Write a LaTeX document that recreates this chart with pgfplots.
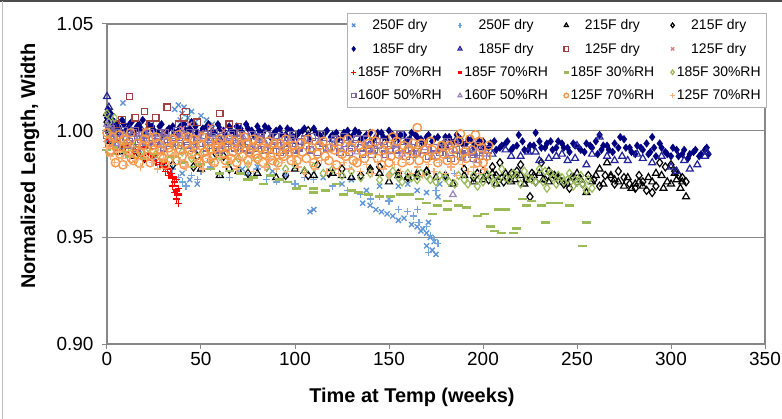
\documentclass[border=0pt]{standalone}
\usepackage{fontspec}
\setmainfont{Liberation Sans}
\usepackage{pgfplots}
\pgfplotsset{compat=1.18}
\usetikzlibrary{calc}

\definecolor{cA}{HTML}{5B93D6}
\definecolor{cB}{HTML}{74A5DE}
\definecolor{cNavy}{HTML}{000080}
\definecolor{cTri}{HTML}{22229A}
\definecolor{cBrown}{HTML}{A04040}
\definecolor{cPink}{HTML}{D98080}
\definecolor{cRed}{HTML}{FF0000}
\definecolor{cGreen}{HTML}{9BBB59}
\definecolor{cPurple}{HTML}{8064A2}
\definecolor{cPurpleL}{HTML}{9A84BA}
\definecolor{cOrange}{HTML}{F79646}
\definecolor{cOrangeL}{HTML}{FAB07A}
\definecolor{cAxis}{HTML}{878787}

\begin{document}
\begin{tikzpicture}
\begin{axis}[
  scale only axis, width=658bp, height=320bp,
  xmin=0, xmax=350, ymin=0.90, ymax=1.05,
  xtick={0,50,...,350}, ytick={0.90,0.95,1.00,1.05},
  ymajorgrids, grid style={cAxis, line width=1.2bp},
  axis line style={cAxis, line width=1.2bp},
  tick pos=left, tick align=outside, major tick length=5bp,
  tick style={cAxis, line width=1bp},
  ticklabel style={font=\fontsize{19}{19}\selectfont},
  /pgf/number format/assume math mode=true,
  yticklabel style={xshift=-5bp, /pgf/number format/.cd, fixed, fixed zerofill, precision=2},
  xlabel={Time at Temp (weeks)}, ylabel={Normalized Length, Width},
  label style={font=\bfseries\fontsize{20}{20}\selectfont},
  xlabel style={at={(0.4635,-0.166)}, anchor=center},
  ylabel style={at={(-0.117,0.556)}, anchor=center},
  only marks,
  legend columns=4,
  legend image code/.code={\draw[mark repeat=2,mark phase=2,#1] plot coordinates {(0bp,0bp)(5bp,0bp)(10bp,0bp)};},
  legend image post style={mark size=2.3bp},
  legend style={at={(0.3647,1.034)}, anchor=north west, draw=gray!60, line width=0.8bp,
    font=\fontsize{14}{16}\selectfont, inner sep=4bp, row sep=8bp,
    /tikz/every even column/.append style={column sep=14bp}},
]
% 250F dry x
\addplot[mark=x, mark size=3.6bp, color=cA, mark options={line width=1.3bp}] coordinates {
(2,1.002)(5,0.999)(8.5,1.013)(12,1.000)(36,1.010)(38,1.012)(40,1.008)(41,1.011)(43,1.006)(45,1.009)
(47,1.004)(50,1.007)(53,1.005)(56,1.003)(42,1.003)(39,1.005)(40,0.980)(44,0.977)(48,0.975)
(65,0.984)(72,0.982)(80,0.983)(88,0.981)(95,0.979)(108,0.962)(110,0.963)
(115,0.978)(125,0.975)(130,0.977)(138,0.972)(145,0.974)(150,0.968)
(136,0.966)(140,0.965)(143,0.963)(146,0.962)(149,0.961)(152,0.960)(155,0.958)(158,0.959)
(162,0.956)(165,0.955)(167,0.953)(170,0.952)(172,0.950)(174,0.948)(170,0.946)(173,0.944)
(175,0.942)(168,0.954)(171,0.957)(160,0.975)(165,0.972)(170,0.971)(176,0.969)(177,0.975)
(155,0.974)(180,0.978)};
\addlegendentry{250F dry}
% 250F dry +
\addplot[mark=+, mark size=3.6bp, color=cB, mark options={line width=1.3bp}] coordinates {
(0,0.995)(3,0.993)(6,0.990)(10,0.992)(20,0.988)(25,0.986)(30,0.985)(35,0.982)(38,0.978)
(40,0.976)(42,0.974)(45,0.979)(48,0.977)(50,0.981)(55,0.983)(60,0.980)(65,0.978)(70,0.981)
(75,0.979)(80,0.982)(85,0.977)(90,0.976)(95,0.980)(100,0.975)(105,0.978)(110,0.977)(120,0.974)
(128,0.972)(135,0.970)(140,0.968)(145,0.969)(150,0.967)(155,0.963)(160,0.962)(163,0.960)
(166,0.957)(170,0.955)(172,0.951)(174,0.949)(176,0.947)(171,0.943)(165,0.963)(175,0.972)
(180,0.978)(185,0.980)};
\addlegendentry{250F dry}
% 215F dry triangle
\addplot[mark=triangle, mark size=4bp, color=black, mark options={line width=1.2bp}] coordinates {
(0,1.008)(2,0.995)(5,0.990)(15,0.988)(30,0.985)(50,0.982)(60,0.979)(70,0.981)(80,0.980)
(90,0.978)(100,0.982)(110,0.979)(120,0.980)(130,0.978)(140,0.981)(150,0.976)(155,0.979)
(165,0.980)(175,0.978)(184,0.975)(190,0.979)(200,0.977)(205,0.980)(210,0.978)(215,0.976)
(220,0.979)(225,0.977)(230,0.980)(235,0.976)(240,0.978)(245,0.975)(250,0.980)(255,0.971)
(258,0.976)(262,0.982)(266,0.985)(270,0.977)(275,0.974)(279,0.973)(283,0.976)(288,0.978)
(292,0.980)(295,0.979)(298,0.976)(300,0.975)(303,0.977)(305,0.973)(308,0.969)
(195,0.976)(202,0.979)(207,0.975)(212,0.980)(217,0.977)(222,0.975)(227,0.979)(232,0.977)
(237,0.979)(242,0.976)(247,0.978)(252,0.977)(260,0.979)(264,0.975)(268,0.979)(272,0.976)
(277,0.978)(281,0.975)(285,0.974)(290,0.976)(296,0.973)(302,0.980)(306,0.976)
(105,0.981)(125,0.979)(145,0.980)(160,0.978)(170,0.981)};
\addlegendentry{215F dry}
% 215F dry diamond
\addplot[mark=diamond, mark size=4bp, color=black, mark options={line width=1.2bp}] coordinates {
(0,1.004)(1,1.000)(3,0.996)(8,0.991)(20,0.987)(35,0.984)(46,0.983)(48,0.988)(55,0.986)
(58,0.989)(62,0.988)(65,0.982)(75,0.980)(85,0.983)(95,0.979)(107,1.000)(107,0.979)(112,0.984)
(125,0.982)(135,0.979)(145,0.983)(155,0.980)(160,0.978)(170,0.981)(180,0.979)(190,0.982)
(195,0.978)(200,0.981)(205,0.983)(209,0.985)(213,0.978)(218,0.981)(220,0.984)(225,0.969)
(228,0.976)(231,0.985)(235,0.981)(240,0.977)(246,0.973)(250,0.976)(256,0.979)(262,0.974)
(268,0.978)(272,0.981)(278,0.975)(283,0.979)(287,0.972)(290,0.971)(294,0.985)(297,0.983)
(300,0.984)(304,0.979)(308,0.976)
(197,0.980)(203,0.977)(207,0.979)(211,0.976)(215,0.980)(223,0.977)(226,0.980)(233,0.977)
(238,0.979)(243,0.975)(248,0.978)(253,0.975)(259,0.977)(265,0.979)(270,0.975)(275,0.978)
(281,0.973)(285,0.976)(292,0.974)(302,0.981)(306,0.978)(118,0.980)(140,0.982)(165,0.979)};
\addlegendentry{215F dry}
% 185F dry filled diamond
\addplot[mark=diamond*, mark size=3.8bp, color=cNavy] coordinates {
(0,1.006)(0.5,1.010)(1,1.003)(2,1.008)(3,1.001)(4,1.004)(6,1.002)(8,1.005)(10,1.000)(12,1.003)
(14,0.999)(16,1.002)(18,1.001)(20,0.999)(22,1.003)(25,1.000)(28,1.002)(30,0.998)(33,1.001)
(36,0.999)(39,1.002)(42,1.000)(45,1.004)(48,0.999)(51,1.001)(54,1.003)(57,0.999)(60,1.001)
(63,0.998)(66,1.000)(69,1.002)(72,0.999)(75,1.001)(78,0.998)(81,1.000)(84,1.002)(87,0.997)
(90,1.000)(93,0.998)(96,1.001)(99,0.997)(102,0.999)(105,1.001)(108,0.996)(111,0.999)
(114,0.997)(117,1.000)(120,0.998)(123,0.996)(126,0.999)(129,0.997)(132,1.000)(135,0.996)
(138,0.998)(141,0.995)(144,0.999)(147,0.997)(150,1.000)(153,0.996)(156,0.998)(159,0.995)
(162,0.999)(165,0.997)(168,0.994)(171,0.998)(174,0.996)(177,0.993)(180,0.997)(183,0.995)
(186,0.998)(189,0.994)(192,0.996)(195,0.993)(198,0.995)(201,0.992)(204,0.994)(207,0.991)
(210,0.993)(213,0.995)(216,0.992)(219,0.998)(222,0.991)(225,0.993)(228,0.999)(231,0.992)
(234,0.994)(237,0.991)(240,0.995)(243,0.992)(246,0.990)(249,0.993)(252,0.991)(255,0.994)
(258,0.992)(261,0.989)(262,0.998)(264,0.993)(267,0.991)(270,0.994)(273,0.997)(276,0.992)
(279,0.990)(282,0.993)(285,0.991)(288,0.989)(290,0.997)(291,0.992)(294,0.994)(297,0.990)
(300,0.988)(303,0.991)(306,0.989)(309,0.987)(312,0.990)(315,0.988)(318,0.991)(320,0.989)
(1.5,1.006)(5,1.003)(7,1.000)(9,1.003)(11,1.001)(13,1.004)(15,1.000)(17,1.003)(19,1.005)
(21,1.000)(24,1.002)(27,0.999)(29,1.003)(32,1.000)(35,1.002)(38,1.000)(41,1.003)(44,1.001)
(47,1.002)(50,0.999)(53,1.002)(56,1.000)(59,1.003)(62,1.000)(65,1.002)(68,0.999)(71,1.001)
(74,1.003)(77,1.000)(80,1.002)(83,0.999)(86,1.001)(89,0.999)(92,1.001)(95,0.998)(98,1.000)
(101,0.998)(104,1.000)(107,0.998)(110,1.001)(113,0.998)(116,0.999)(119,0.997)(122,0.999)
(125,0.997)(128,1.000)(131,0.998)(134,0.999)(137,0.997)(140,0.999)(143,0.997)(146,0.999)
(149,0.996)(152,0.998)(155,0.996)(158,0.998)(161,0.996)(164,0.998)(167,0.996)(170,0.997)
(173,0.995)(176,0.997)(179,0.994)(182,0.997)(185,0.995)(188,0.996)(191,0.994)(194,0.996)
(197,0.993)(200,0.995)(203,0.992)(206,0.995)(209,0.992)(212,0.994)(215,0.991)(218,0.993)
(221,0.995)(224,0.991)(227,0.993)(230,0.995)(233,0.992)(236,0.995)(239,0.992)(242,0.994)
(245,0.992)(248,0.994)(251,0.992)(254,0.990)(257,0.993)(260,0.995)(263,0.991)(266,0.993)
(269,0.990)(272,0.992)(275,0.996)(278,0.992)(281,0.989)(284,0.992)(287,0.994)(289,0.990)
(292,0.988)(295,0.992)(298,0.989)(301,0.992)(304,0.988)(307,0.991)(310,0.989)(313,0.991)
(316,0.989)(319,0.992)};
\addlegendentry{185F dry}
% 185F dry triangle
\addplot[mark=triangle, mark size=4bp, color=cTri, mark options={line width=1.2bp}] coordinates {
(0,1.016)(1,1.011)(2,1.006)(4,1.002)(7,0.999)(12,1.001)(20,0.998)(30,0.997)(45,0.998)
(60,0.996)(80,0.997)(100,0.995)(120,0.996)(140,0.994)(160,0.995)(180,0.993)(195,0.990)
(205,0.989)(212,0.991)(220,0.988)(228,0.990)(230,0.986)(235,0.987)(242,0.989)(249,0.987)
(250,0.993)(255,0.984)(262,0.997)(266,0.988)(270,0.986)(277,0.986)(282,0.989)(285,0.987)
(290,0.985)(295,0.988)(300,0.983)(303,0.981)(307,0.986)(310,0.982)(314,0.984)(318,0.988)
(319,0.990)(200,0.992)(215,0.988)(224,0.990)(239,0.988)(245,0.986)(258,0.989)(274,0.988)};
\addlegendentry{185F dry}
% 125F dry square
\addplot[mark=square, mark size=3.2bp, color=cBrown, mark options={line width=1.2bp}] coordinates {
(5,1.003)(8,1.005)(12,1.016)(15,1.006)(20,1.009)(23,1.003)(26,1.006)(32,1.011)(38,1.003)
(41,1.006)(42,1.009)(48,1.004)(55,1.001)(60,1.008)(65,1.003)(70,1.002)};
\addlegendentry{125F dry}
% 125F dry x
\addplot[mark=x, mark size=3.6bp, color=cPink, mark options={line width=1.2bp}] coordinates {
(20,1.000)(30,0.999)(40,1.001)(44,1.003)(50,0.999)(55,1.002)(62,1.000)(70,0.998)};
\addlegendentry{125F dry}
% 185F 70%RH +
\addplot[mark=+, mark size=3.6bp, color=cRed, mark options={line width=1.3bp}] coordinates {
(1,0.996)(3,0.993)(5,0.991)(8,0.992)(10,0.990)(13,0.989)(15,0.991)(18,0.988)(20,0.987)
(22,0.989)(24,0.986)(26,0.985)(28,0.984)(30,0.983)(31,0.981)(32,0.982)(33,0.979)(34,0.980)
(35,0.978)(36,0.976)(37,0.977)(35,0.974)(38,0.973)(36,0.971)(37,0.968)(38,0.966)};
\addlegendentry{185F 70\%RH}
% 185F 70%RH dash
\addplot[mark=-, mark size=3.5bp, color=cRed, mark options={line width=2.6bp}] coordinates {
(5,0.995)(10,0.993)(15,0.990)(20,0.992)(25,0.988)(30,0.985)(35,0.978)(36,0.974)(37,0.972)(38,0.970)};
\addlegendentry{185F 70\%RH}
% 185F 30%RH dash
\addplot[mark=-, mark size=4.5bp, color=cGreen, mark options={line width=2.6bp}] coordinates {
(0,0.991)(2,0.989)(5,0.992)(8,0.990)(12,0.988)(16,0.990)(20,0.987)(25,0.989)(30,0.986)
(35,0.988)(40,0.985)(45,0.983)(50,0.984)(55,0.982)(60,0.980)(65,0.981)(71,0.980)(75,0.977)
(78,0.978)(83,0.975)(87,0.979)(92,0.977)(96,0.976)(101,0.973)(104,0.974)(110,0.971)(110,0.973)
(116,0.972)(122,0.975)(126,0.970)(130,0.972)(134,0.971)(139,0.970)(145,0.969)(151,0.969)
(156,0.970)(161,0.970)(166,0.968)(170,0.966)(173,0.961)(176,0.965)(181,0.963)(181,0.967)
(187,0.965)(191,0.964)(197,0.960)(201,0.961)(204,0.955)(206,0.953)(208,0.963)(210,0.952)
(212,0.963)(216,0.952)(218,0.954)(221,0.968)(223,0.965)(226,0.967)(231,0.965)(233,0.957)
(236,0.966)(240,0.966)(246,0.965)(253,0.946)(255,0.957)};
\addlegendentry{185F 30\%RH}
% 185F 30%RH diamond
\addplot[mark=diamond, mark size=4bp, color=cGreen, mark options={line width=1.2bp}] coordinates {
(0,1.008)(1,1.004)(2,1.000)(3,0.996)(4,1.006)(5,0.993)(8,0.995)(10,0.991)(14,0.993)(18,0.990)
(22,0.992)(26,0.989)(30,0.991)(35,0.988)(40,0.990)(45,0.987)(50,0.989)(55,0.986)(60,0.988)
(65,0.985)(70,0.987)(75,0.984)(80,0.986)(85,0.983)(90,0.985)(95,0.982)(100,0.984)(105,0.981)
(110,0.983)(115,0.980)(120,0.982)(125,0.979)(130,0.981)(135,0.978)(140,0.980)(145,0.977)
(150,0.979)(155,0.978)(160,0.980)(165,0.977)(170,0.979)(175,0.976)(180,0.978)(185,0.975)
(190,0.977)(195,0.979)(197,0.974)(200,0.976)(204,0.978)(208,0.977)(210,0.982)(212,0.978)
(216,0.980)(220,0.975)(224,0.978)(228,0.976)(230,0.982)(233,0.981)(234,0.973)(237,0.978)
(240,0.979)(243,0.976)(245,0.977)(248,0.974)(250,0.976)(252,0.979)(255,0.972)(258,0.973)
(152,0.981)(157,0.976)(162,0.978)(167,0.980)(172,0.977)(177,0.979)(182,0.976)(187,0.979)
(192,0.975)(199,0.978)(202,0.980)(206,0.975)(214,0.977)(218,0.979)(222,0.981)(226,0.977)
(232,0.976)(236,0.980)(239,0.975)(242,0.978)(246,0.980)(249,0.977)(253,0.975)(256,0.977)};
\addlegendentry{185F 30\%RH}
% 160F 50%RH square
\addplot[mark=square, mark size=3.2bp, color=cPurple, mark options={line width=1.2bp}] coordinates {
(0,0.998)(1,0.994)(2,1.001)(4,0.996)(6,0.999)(8,0.993)(10,0.997)(12,0.995)(14,0.999)(16,0.992)
(18,0.996)(20,0.998)(22,0.993)(24,0.997)(26,0.995)(28,0.999)(30,0.992)(32,0.996)(34,0.994)
(36,0.998)(38,0.993)(40,0.997)(42,0.995)(44,0.999)(46,0.992)(48,0.996)(50,0.994)(52,0.998)
(54,0.993)(56,0.997)(58,0.995)(60,0.991)(62,0.996)(64,0.994)(66,0.998)(68,0.992)(70,0.996)
(72,0.994)(74,0.997)(76,0.991)(78,0.995)(80,0.993)(82,0.997)(84,0.991)(86,0.995)(88,0.993)
(90,0.997)(92,0.990)(94,0.994)(96,0.992)(98,0.996)(100,0.991)(103,0.995)(106,0.993)(109,0.997)
(112,0.990)(115,0.994)(118,0.992)(121,0.996)(124,0.990)(127,0.994)(130,0.992)(133,0.996)
(136,0.989)(139,0.993)(142,0.991)(145,0.995)(148,0.989)(151,0.993)(154,0.991)(156,0.998)
(159,0.988)(162,0.992)(165,0.990)(168,0.994)(171,0.988)(174,0.992)(177,0.990)(180,0.994)
(181,0.995)(183,0.987)(186,0.991)(189,0.989)(192,0.993)(195,0.987)(198,0.990)(200,0.988)(203,0.991)
(1,1.000)(3,0.995)(5,0.998)(7,0.996)(9,1.000)(11,0.993)(13,0.997)(15,1.000)(17,0.994)(19,0.998)
(21,0.995)(23,0.999)(25,0.993)(27,0.997)(29,0.995)(31,0.999)(33,0.993)(35,0.996)(37,1.000)
(39,0.994)(41,0.998)(43,0.993)(45,0.996)(47,0.999)(49,0.994)(51,0.997)(53,0.992)(55,0.995)
(57,0.999)(59,0.993)(61,0.997)(63,0.992)(65,0.995)(67,0.999)(69,0.994)(71,0.998)(73,0.992)
(75,0.995)(77,0.998)(79,0.992)(81,0.996)(83,0.994)(85,0.998)(87,0.991)(89,0.995)(91,0.993)
(93,0.997)(95,0.991)(97,0.994)(99,0.998)(102,0.992)(105,0.996)(108,0.991)(111,0.995)(114,0.998)
(117,0.992)(120,0.995)(123,0.993)(126,0.997)(129,0.990)(132,0.994)(135,0.992)(138,0.996)
(141,0.989)(144,0.993)(147,0.995)(150,0.991)(153,0.994)(157,0.992)(160,0.995)(163,0.989)
(166,0.993)(169,0.991)(172,0.995)(175,0.988)(178,0.992)(182,0.990)(185,0.994)(188,0.988)
(191,0.991)(194,0.989)(197,0.993)(202,0.988)};
\addlegendentry{160F 50\%RH}
% 160F 50%RH triangle
\addplot[mark=triangle, mark size=3.8bp, color=cPurpleL, mark options={line width=1.2bp}] coordinates {
(0,1.003)(3,0.997)(5,0.994)(9,0.998)(13,0.993)(17,0.997)(21,0.994)(25,0.998)(29,0.993)
(33,0.997)(37,0.994)(41,0.998)(45,0.993)(49,0.997)(53,0.994)(57,0.996)(61,0.993)(65,0.997)
(69,0.994)(73,0.996)(77,0.992)(81,0.996)(85,0.993)(89,0.995)(93,0.992)(97,0.995)(101,0.992)
(105,0.995)(109,0.991)(113,0.995)(117,0.991)(121,0.994)(125,0.991)(129,0.994)(133,0.990)
(137,0.994)(141,0.990)(145,0.993)(149,0.990)(153,0.993)(157,0.989)(161,0.993)(165,0.989)
(169,0.992)(173,0.988)(177,0.992)(181,0.988)(184,0.970)(185,0.991)(189,0.987)(193,0.990)
(197,0.986)(201,0.989)};
\addlegendentry{160F 50\%RH}
% 125F 70%RH circle
\addplot[mark=o, mark size=4.2bp, color=cOrange, mark options={line width=1.4bp}] coordinates {
(0,0.999)(1,0.995)(2,0.991)(3,0.997)(5,0.993)(7,0.989)(9,0.996)(11,0.992)(13,0.987)(14,0.986)
(16,0.994)(18,0.990)(20,0.996)(22,0.988)(24,0.993)(26,0.997)(28,0.991)(30,0.987)(32,0.995)
(34,0.990)(36,0.993)(38,0.998)(40,0.988)(42,0.994)(44,0.991)(46,0.996)(48,0.987)(50,0.993)
(52,0.990)(54,0.995)(56,0.988)(58,0.992)(60,0.996)(62,0.989)(64,0.993)(66,0.987)(68,0.995)
(70,0.991)(72,0.988)(74,0.994)(76,0.990)(78,0.996)(80,0.987)(82,0.992)(84,0.989)(86,0.995)
(88,0.986)(90,0.991)(92,0.994)(94,0.988)(96,0.992)(98,0.986)(100,0.990)(103,0.994)(106,0.987)
(109,0.992)(112,0.989)(115,0.995)(118,0.986)(121,0.991)(124,0.995)(127,0.988)(130,0.992)
(133,0.985)(136,0.990)(139,0.994)(141,0.9985)(144,0.987)(147,0.991)(150,0.985)(152,0.997)
(155,0.989)(158,0.993)(161,0.986)(164,0.990)(165,1.0014)(167,0.994)(170,0.987)(173,0.991)
(176,0.985)(179,0.989)(182,0.993)(185,0.986)(188,0.9985)(190,0.990)(193,0.996)(196,0.998)
(197,0.985)(199,0.992)(202,0.988)
(1.5,0.990)(4.5,0.985)(6.5,0.998)(8.5,0.984)(10.5,0.994)(12.5,0.999)(15,0.989)(17,0.985)
(19,0.993)(21,0.999)(23,0.985)(25,0.991)(27,0.994)(29,0.988)(31,0.984)(33,0.992)(35,0.996)
(37,0.986)(39,0.991)(41,0.984)(43,0.997)(45,0.989)(47,0.993)(49,0.985)(51,0.997)(53,0.987)
(55,0.991)(57,0.985)(59,0.994)(61,0.992)(63,0.986)(65,0.996)(67,0.990)(69,0.985)(71,0.993)
(73,0.997)(75,0.986)(77,0.992)(79,0.989)(81,0.995)(83,0.985)(85,0.991)(87,0.988)(89,0.994)
(91,0.985)(93,0.989)(95,0.996)(97,0.990)(99,0.993)(101,0.986)(104,0.990)(107,0.996)(110,0.985)
(113,0.993)(116,0.988)(119,0.992)(122,0.984)(125,0.989)(128,0.996)(131,0.986)(134,0.993)
(137,0.987)(140,0.991)(143,0.995)(146,0.984)(149,0.993)(151,0.988)(154,0.995)(157,0.985)
(160,0.991)(163,0.994)(166,0.986)(169,0.991)(172,0.995)(175,0.988)(178,0.993)(181,0.986)
(184,0.991)(187,0.995)(191,0.987)(194,0.991)(198,0.995)(200,0.985)(203,0.993)};
\addlegendentry{125F 70\%RH}
% 125F 70%RH +
\addplot[mark=+, mark size=3.6bp, color=cOrangeL, mark options={line width=1.3bp}] coordinates {
(0,0.992)(2,0.988)(4,0.985)(6,0.990)(8,0.987)(10,0.9836)(12,0.989)(15,0.986)(18,0.983)
(21,0.988)(24,0.985)(27,0.982)(30,0.987)(33,0.984)(36,0.989)(39,0.986)(42,0.983)(45,0.988)
(48,0.985)(51,0.982)(54,0.987)(57,0.984)(60,0.988)(63,0.983)(66,0.986)(69,0.982)(72,0.987)
(75,0.984)(78,0.981)(81,0.986)(84,0.983)(87,0.987)(90,0.982)(93,0.985)(96,0.981)(99,0.986)
(102,0.983)(105,0.980)(108,0.985)(111,0.982)(114,0.986)(117,0.981)(120,0.984)(123,0.980)
(126,0.985)(129,0.982)(132,0.986)(135,0.981)(138,0.984)(141,0.980)(144,0.985)(147,0.982)
(150,0.979)(153,0.984)(156,0.981)(159,0.985)(162,0.980)(165,0.983)(168,0.979)(171,0.984)
(174,0.981)(177,0.985)(180,0.980)(183,0.983)(186,0.979)(189,0.984)(192,0.981)(195,0.983)
(198,0.980)(201,0.982)};
\addlegendentry{125F 70\%RH}
\coordinate (ll) at (rel axis cs:0,0);
\coordinate (ur) at (rel axis cs:1,1);
\end{axis}
\pgfresetboundingbox
\path[use as bounding box] ($(ll)+(-107bp,-75bp)$) rectangle ($(ur)+(17bp,24bp)$);
\draw[black!70, line width=1.5bp] ($(ll|-ur)+(-107bp,23bp)$) -- ($(ur)+(17bp,23bp)$);
\draw[gray!50, line width=1bp] ($(ll)+(-104bp,-75bp)$) -- ($(ll|-ur)+(-104bp,23bp)$);
\end{tikzpicture}
\end{document}
